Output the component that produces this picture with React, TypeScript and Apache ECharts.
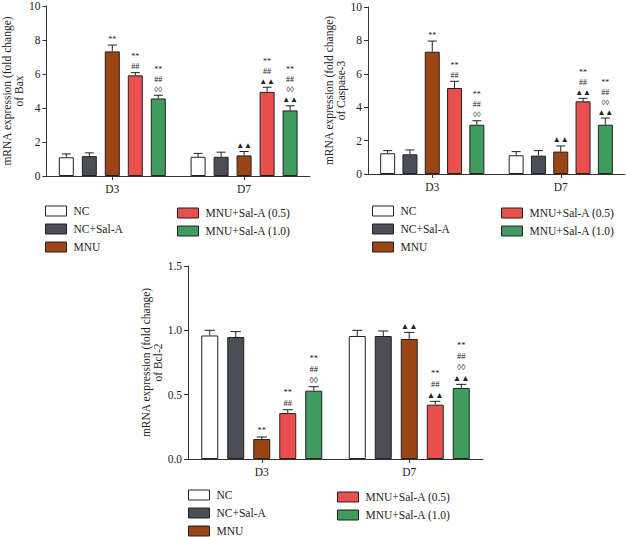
import React, { useEffect, useRef } from 'react';
import * as echarts from 'echarts';

const categories = ['D3', 'D7'];
const groups = ['NC', 'NC+Sal-A', 'MNU', 'MNU+Sal-A (0.5)', 'MNU+Sal-A (1.0)'];
const colors = ['#ffffff', '#4b4e57', '#9b4515', '#e84f4d', '#3f9b5e'];

// values per group: [D3, D7]
const baxMean = [[1.1, 1.13], [1.17, 1.13], [7.33, 1.21], [5.92, 4.95], [4.56, 3.86]];
const baxErr = [[0.2, 0.2], [0.19, 0.27], [0.37, 0.23], [0.16, 0.27], [0.19, 0.27]];
const casMean = [[1.24, 1.12], [1.18, 1.1], [7.32, 1.34], [5.15, 4.35], [2.95, 2.95]];
const casErr = [[0.16, 0.22], [0.26, 0.3], [0.64, 0.34], [0.4, 0.18], [0.24, 0.4]];
const bclMean = [[0.96, 0.956], [0.948, 0.956], [0.155, 0.933], [0.357, 0.422], [0.531, 0.552]];
const bclErr = [[0.04, 0.044], [0.042, 0.039], [0.016, 0.051], [0.026, 0.026], [0.031, 0.028]];

// significance marks per group: [D3, D7]
const baxMarks = [[[], []], [[], []], [['**'], ['▲▲']], [['**', '##'], ['**', '##', '▲▲']], [['**', '##', '◊◊'], ['**', '##', '◊◊', '▲▲']]];
const casMarks = [[[], []], [[], []], [['**'], ['▲▲']], [['**', '##'], ['**', '##', '▲▲']], [['**', '##', '◊◊'], ['**', '##', '◊◊', '▲▲']]];
const bclMarks = [[[], []], [[], []], [['**'], ['▲▲']], [['**', '##'], ['**', '##', '▲▲']], [['**', '##', '◊◊'], ['**', '##', '◊◊', '▲▲']]];

const baxTicks = { min: 0, max: 10, interval: 2 };
const casTicks = { min: 0, max: 10, interval: 2 };
const bclTicks = { min: 0, max: 1.5, interval: 0.5 };

const FONT = '"Liberation Serif", "DejaVu Serif", serif';

type ChartDef = {
  mean: number[][];
  err: number[][];
  marks: string[][][];
  ticks: { min: number; max: number; interval: number };
  yName: string;
  grid: { left: number; top: number; width: number; height: number };
  barW: number;
  gap: number;
  nameGap: number;
  decimals: number;
  lineH: number;
  markFont: number;
  legend1: { left: number; top: number };
  legend2: { left: number; top: number };
};

const charts: ChartDef[] = [
  {
    mean: baxMean, err: baxErr, marks: baxMarks, ticks: baxTicks,
    yName: 'mRNA expression (fold change)\nof Bax',
    grid: { left: 43, top: 5, width: 267, height: 171 },
    barW: 15, gap: 8, nameGap: 10, decimals: 0, lineH: 10, markFont: 8,
    legend1: { left: 45, top: 205 }, legend2: { left: 177, top: 207 },
  },
  {
    mean: casMean, err: casErr, marks: casMarks, ticks: casTicks,
    yName: 'mRNA expression (fold change)\nof Caspase-3',
    grid: { left: 368, top: 7, width: 257, height: 167 },
    barW: 15, gap: 7.3, nameGap: 15, decimals: 0, lineH: 10, markFont: 8,
    legend1: { left: 372, top: 205 }, legend2: { left: 501, top: 207 },
  },
  {
    mean: bclMean, err: bclErr, marks: bclMarks, ticks: bclTicks,
    yName: 'mRNA expression (fold change)\nof Bcl-2',
    grid: { left: 188, top: 266, width: 295, height: 193 },
    barW: 17, gap: 9, nameGap: 17, decimals: 1, lineH: 11, markFont: 8.5,
    legend1: { left: 188, top: 489 }, legend2: { left: 337, top: 491 },
  },
];

function buildOption() {
  const grid: any[] = [];
  const xAxis: any[] = [];
  const yAxis: any[] = [];
  const series: any[] = [];
  const legend: any[] = [];

  charts.forEach((c, k) => {
    grid.push({ ...c.grid, containLabel: false });
    xAxis.push({
      type: 'category',
      gridIndex: k,
      data: categories,
      axisLine: { lineStyle: { color: '#333', width: 1 } },
      axisTick: { show: true, alignWithLabel: true, length: 4, lineStyle: { color: '#333' } },
      axisLabel: { color: '#222', fontFamily: FONT, fontSize: 11.5, margin: 7 },
    });
    yAxis.push({
      type: 'value',
      gridIndex: k,
      min: c.ticks.min,
      max: c.ticks.max,
      interval: c.ticks.interval,
      name: c.yName,
      nameLocation: 'middle',
      nameRotate: 90,
      nameGap: c.nameGap,
      nameTextStyle: { color: '#222', fontFamily: FONT, fontSize: 11.5, lineHeight: 12 },
      splitLine: { show: false },
      axisLine: { show: true, lineStyle: { color: '#333', width: 1 } },
      axisTick: { show: true, length: 4, lineStyle: { color: '#333' } },
      axisLabel: {
        color: '#222', fontFamily: FONT, fontSize: 11.5, margin: 6,
        formatter: (v: number) => v.toFixed(c.decimals),
      },
    });

    groups.forEach((g, j) => {
      series.push({
        type: 'bar',
        name: g,
        xAxisIndex: k,
        yAxisIndex: k,
        data: c.mean[j],
        barWidth: c.barW,
        barGap: `${(c.gap / c.barW) * 100}%`,
        itemStyle: { color: colors[j], borderColor: '#222', borderWidth: 1 },
        emphasis: { disabled: true },
      });
    });

    const items: any[] = [];
    groups.forEach((g, j) => {
      categories.forEach((cat, ci) => {
        items.push({ g: j, cat: ci, mean: c.mean[j][ci], err: c.err[j][ci], marks: c.marks[j][ci] });
      });
    });
    const pitch = c.barW + c.gap;
    series.push({
      type: 'custom',
      xAxisIndex: k,
      yAxisIndex: k,
      z: 5,
      silent: true,
      data: items.map((d) => [d.cat, d.mean + d.err]),
      renderItem: (params: any, api: any) => {
        const d = items[params.dataIndex];
        const base = api.coord([d.cat, d.mean]);
        const top = api.coord([d.cat, d.mean + d.err]);
        const x = base[0] + (d.g - 2) * pitch;
        const capHalf = c.barW * 0.3;
        const children: any[] = [
          { type: 'line', shape: { x1: x, y1: base[1], x2: x, y2: top[1] }, style: { stroke: '#222', lineWidth: 1 } },
          { type: 'line', shape: { x1: x - capHalf, y1: top[1], x2: x + capHalf, y2: top[1] }, style: { stroke: '#222', lineWidth: 1 } },
        ];
        if (d.marks.length) {
          children.push({
            type: 'text',
            style: {
              text: d.marks.join('\n'),
              x,
              y: top[1] - 1,
              align: 'center',
              verticalAlign: 'bottom',
              fontFamily: FONT,
              fontSize: c.markFont,
              lineHeight: c.lineH,
              fill: '#222',
            },
          });
        }
        return { type: 'group', children };
      },
    });

    const legendBase = {
      orient: 'vertical',
      padding: 0,
      height: 70,
      itemWidth: 21,
      itemHeight: 10,
      itemGap: 6,
      icon: 'rect',
      selectedMode: false,
      itemStyle: { borderColor: '#222', borderWidth: 1 },
      textStyle: { color: '#222', fontFamily: FONT, fontSize: 11.5, lineHeight: 10, padding: [0, 0, 0, 2] },
    };
    legend.push({ ...legendBase, ...c.legend1, data: groups.slice(0, 3) });
    legend.push({ ...legendBase, ...c.legend2, data: groups.slice(3) });
  });

  return {
    animation: false,
    backgroundColor: '#ffffff',
    grid,
    xAxis,
    yAxis,
    series,
    legend,
  };
}

export default function App() {
  const ref = useRef<HTMLDivElement>(null);
  useEffect(() => {
    if (!ref.current) return;
    const chart = echarts.init(ref.current, undefined, { renderer: 'svg' });
    chart.setOption(buildOption() as any);
    return () => chart.dispose();
  }, []);
  return (
    <div
      ref={ref}
      style={{ position: 'fixed', left: 0, top: 0, width: 626, height: 537, background: '#fff' }}
    />
  );
}
